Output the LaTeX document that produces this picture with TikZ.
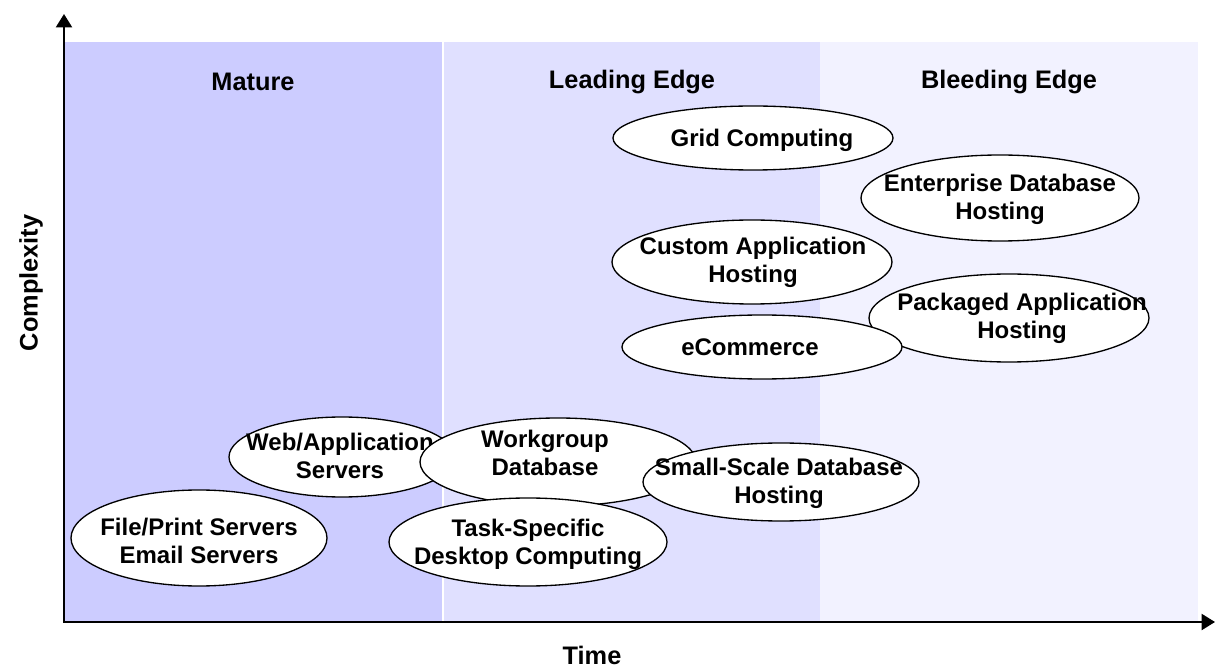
\documentclass[tikz,border=0pt]{standalone}
\usepackage{fontspec}
\setmainfont{Liberation Sans}
\usepackage{tikz}
\usetikzlibrary{arrows.meta, shapes.geometric}
\definecolor{matureblue}{RGB}{204,204,255}
\definecolor{leadblue}{RGB}{224,224,255}
\definecolor{bleedblue}{RGB}{242,242,255}
\tikzset{
    bubble/.style 2 args={ellipse, draw=black, line width=1pt, fill=white, inner sep=0pt, minimum width=#1*0.75pt, minimum height=#2*0.75pt},
    tag/.style={font=\bfseries\fontsize{18}{21}\selectfont, align=center, inner sep=0pt},
    head/.style={font=\bfseries\fontsize{19}{22}\selectfont, inner sep=0pt},
    axis/.style={line width=1.5pt, {Triangle[width=12pt,length=10pt]}-{Triangle[width=12pt,length=10pt]}}
}

\begin{document}
\begin{tikzpicture}[x=0.75pt, y=-0.75pt]
    \useasboundingbox (0,0) rectangle (1215,670);

    % Maturity bands
    \fill[matureblue] (64,42) rectangle (442,622);
    \fill[leadblue] (444,42) rectangle (820,622);
    \fill[bleedblue] (820,42) rectangle (1198,622);
    \node[head] (mature) at (253,82) {Mature};
    \node[head] (leading) at (632,82) {Leading Edge};
    \node[head] (bleeding) at (1009,82) {Bleeding Edge};

    % Axes
    \coordinate (origin) at (64,622);
    \coordinate (ytip) at (64,14);
    \coordinate (xtip) at (1215,622);
    \draw[axis] (ytip) -- (origin) -- (xtip);
    \node[head, rotate=90] (complexity) at (31,283) {Complexity};
    \node[head] (time) at (592,655) {Time};

    % Upper group
    \node[bubble={280}{64}] (grid) at (753,138) {};
    \node[tag] (gridtxt) at (762,140) {Grid Computing};
    \node[bubble={278}{86}] (enterprise) at (1000,198) {};
    \node[tag] (enterprisetxt) at (1000,199) {Enterprise Database\\Hosting};
    \node[bubble={280}{84}] (custom) at (752,262) {};
    \node[tag] (customtxt) at (753,262) {Custom Application\\Hosting};
    \node[bubble={280}{88}] (packaged) at (1009,318) {};
    \node[tag] (packagedtxt) at (1022,318) {Packaged Application\\Hosting};
    \node[bubble={280}{64}] (ecommerce) at (762,347) {};
    \node[tag] (ecommercetxt) at (750,347) {eCommerce};

    % Lower group
    \node[bubble={256}{96}] (fileprint) at (199,538) {};
    \node[tag] (fileprinttxt) at (199,541) {File/Print Servers\\Email Servers};
    \node[bubble={226}{80}] (webapp) at (342,457) {};
    \node[tag] (webapptxt) at (340,456) {Web/Application\\Servers};
    \node[bubble={276}{88}] (workgroup) at (558,462) {};
    \node[tag] (workgrouptxt) at (545,453) {Workgroup\\Database};
    \node[bubble={276}{78}] (smallscale) at (781,482) {};
    \node[tag] (smallscaletxt) at (779,483) {Small-Scale Database\\Hosting};
    \node[bubble={278}{88}] (taskspec) at (528,542) {};
    \node[tag] (taskspectxt) at (528,544) {Task-Specific\\Desktop Computing};
\end{tikzpicture}
\end{document}
